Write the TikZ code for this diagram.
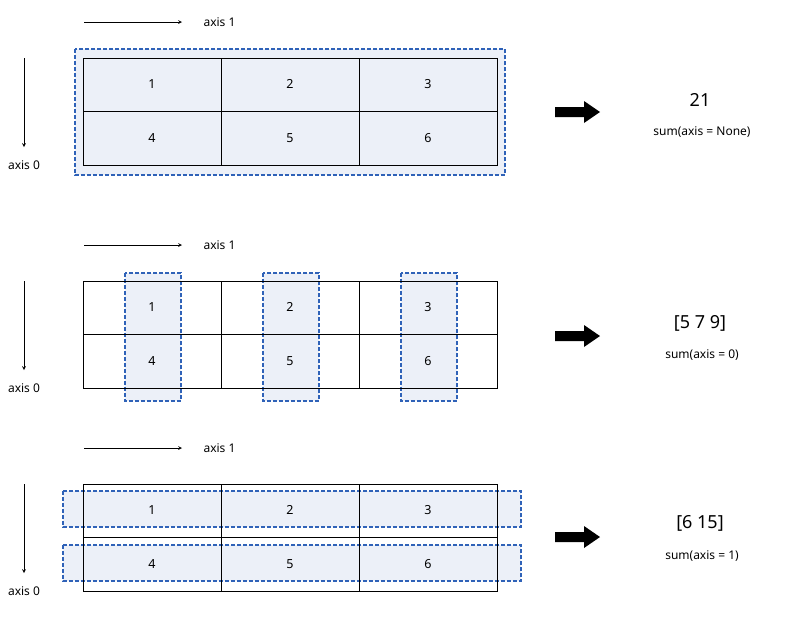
\documentclass[tikz,border=0pt]{standalone}
\usepackage{fontspec}
\setmainfont{Noto Sans}
\definecolor{dblue}{HTML}{2F62B8}
\definecolor{lfill}{HTML}{ECF0F8}
\begin{document}
\begin{tikzpicture}[x=1pt,y=-1pt,
  cellfill/.style={fill=lfill},
  dbox/.style={draw=dblue,dash pattern=on 4pt off 2pt,line width=1.2pt,fill=lfill},
  grid/.style={draw=black,line width=0.9pt},
  lbl/.style={font=\fontsize{12}{14}\selectfont},
  num/.style={font=\fontsize{12.5}{15}\selectfont},
  res/.style={font=\fontsize{18}{22}\selectfont},
  ax/.style={->,>=stealth,line width=0.7pt}]
\useasboundingbox (0,0) rectangle (800,630);
\newcommand{\myblock}[2]{%
  \coordinate (#2a1s) at (84,#1-36); \coordinate (#2a1e) at (182,#1-36);
  \draw[ax] (#2a1s) -- (#2a1e);
  \node[lbl,anchor=west] (#2a1l) at (200,#1-36) {axis 1};
  \coordinate (#2a0s) at (24,#1); \coordinate (#2a0e) at (24,#1+89);
  \draw[ax] (#2a0s) -- (#2a0e);
  \node[lbl] (#2a0l) at (24,#1+107) {axis 0};
}
\myblock{58}{b}
\draw[dbox] (75,49) rectangle (505,175);
\draw[grid,cellfill] (83,58) rectangle (497,165);
\myblock{281}{c}
\draw[dbox] (125,273) rectangle (181,401);
\draw[dbox] (263,273) rectangle (319,401);
\draw[dbox] (401,273) rectangle (457,401);
\myblock{484}{d}
\draw[dbox] (63,491) rectangle (521,527);
\draw[dbox] (63,545) rectangle (521,581);
\foreach \y in {58,281,484}{
  \draw[grid] (83,\y) rectangle (497,\y+107);
  \draw[grid] (83,\y+53) -- (497,\y+53);
  \draw[grid] (221,\y) -- (221,\y+107);
  \draw[grid] (359,\y) -- (359,\y+107);
  \node[num] at (152,\y+26) {1};
  \node[num] at (290,\y+26) {2};
  \node[num] at (428,\y+26) {3};
  \node[num] at (152,\y+80) {4};
  \node[num] at (290,\y+80) {5};
  \node[num] at (428,\y+80) {6};
}
\foreach \y in {112,336,537}{
  \fill (555,\y-5) -- (584,\y-5) -- (584,\y-11) -- (600,\y) -- (584,\y+11) -- (584,\y+5) -- (555,\y+5) -- cycle;
}
\node[res] (r1) at (700,100) {21};
\node[lbl] (s1) at (702,132) {sum(axis = None)};
\node[res] (r2) at (700,323) {[5 7 9]};
\node[lbl] (s2) at (702,355) {sum(axis = 0)};
\node[res] (r3) at (700,523) {[6 15]};
\node[lbl] (s3) at (702,556) {sum(axis = 1)};
\end{tikzpicture}
\end{document}
